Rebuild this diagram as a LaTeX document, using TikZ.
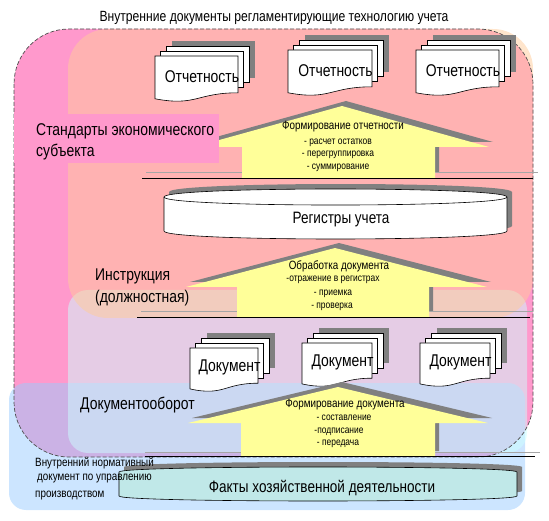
\documentclass[tikz,border=0pt]{standalone}
\usepackage{fontspec}
\setmainfont{Liberation Sans}[FakeStretch=0.82]
\definecolor{pinkA}{HTML}{FF99CC}
\definecolor{salmonL}{HTML}{FFCC99}
\definecolor{lavL}{HTML}{CCFFFF}
\definecolor{blueL}{HTML}{99CCFF}
\definecolor{houseY}{HTML}{FFFF99}
\definecolor{shadowgray}{HTML}{808080}
\definecolor{factsC}{HTML}{C0E8E8}
\tikzset{
  layer/.style={fill opacity=0.5},
  docpage/.style={fill=white,draw=black,line width=0.6pt},
  doctext/.style={inner sep=0pt,font=\fontsize{17}{19}\selectfont},
  bigtext/.style={inner sep=0pt,font=\fontsize{17}{19}\selectfont,anchor=west},
  cyltext/.style={inner sep=0pt,font=\fontsize{16.5}{18}\selectfont},
  htitle/.style={inner sep=0pt,font=\fontsize{12}{14}\selectfont},
  hitem/.style={inner sep=0pt,font=\fontsize{10.3}{12}\selectfont},
  smalltext/.style={inner sep=0pt,font=\fontsize{12}{14}\selectfont,anchor=west},
  housefill/.style={fill=houseY},
  hshadow/.style={fill=shadowgray},
  baseline/.style={draw=black,line width=0.8pt},
  baseshadow/.style={draw=shadowgray!70,line width=1pt},
  cylline/.style={draw=black,line width=0.6pt},
}
% document stack: name, x, y, w, H, text
\newcommand{\docstack}[6]{%
  \fill[shadowgray] (#2+17,#3-15) rectangle (#2+17+#4,#3-15+0.8*#5);
  \filldraw[docpage] (#2+11,#3-10) rectangle (#2+11+#4,#3-10+0.8*#5);
  \filldraw[docpage] (#2+5,#3-5) rectangle (#2+5+#4,#3-5+0.8*#5);
  \filldraw[docpage] (#2,#3) -- (#2+#4,#3) -- (#2+#4,#3+0.8*#5)
     .. controls (#2+0.5*#4,#3+0.8*#5) and (#2+0.5*#4,#3+1.1*#5) .. (#2,#3+0.93*#5) -- cycle;
  \node[doctext] (#1) at (#2+0.5*#4+5.5,#3+0.45*#5) {#6};
}
% house: style, cx, yp, ye, yb, ex1, ex2, bx1, bx2
\newcommand{\housesh}[9]{%
  \fill[#1] (#8,#5) -- (#8,#4) -- (#6,#4) -- (#2,#3) -- (#7,#4) -- (#9,#4) -- (#9,#5) -- cycle;
}
% cylinder: style, x1, x2, y1, y2, ry
\newcommand{\cylshape}[6]{%
  \path[#1] (#2,#4) .. controls (#2,#4-1.333*#6) and (#3,#4-1.333*#6) .. (#3,#4)
     -- (#3,#5) .. controls (#3,#5+1.333*#6) and (#2,#5+1.333*#6) .. (#2,#5) -- cycle;
}
\begin{document}
\begin{tikzpicture}[x=1pt,y=-1pt]
\useasboundingbox (0,0) rectangle (549,521);
% background regions
\fill[pinkA] (14,29) [rounded corners=55pt] rectangle (533,457);
\fill[blueL,layer] (9,383) [rounded corners=17pt] rectangle (525,510);
\fill[lavL,layer] (68,290) [rounded corners=20pt] rectangle (527,453);
\fill[salmonL,layer] (68,29) [rounded corners=40pt] rectangle (533,318);
\draw[black!70,dashed,dash pattern=on 4pt off 2pt,line width=0.7pt] (14,29) [rounded corners=55pt] rectangle (533,457);

\node[inner sep=0pt,font=\fontsize{14.8}{17}\selectfont] (title) at (274,18) {Внутренние документы регламентирующие технологию учета};

% top documents
\docstack{otch1}{155}{56}{83}{46}{Отчетность}
\docstack{otch2}{288}{50}{84}{46}{Отчетность}
\docstack{otch3}{416}{50}{83}{46}{Отчетность}

% house 1
\begin{scope}[shift={(4,-5)}]
\housesh{hshadow}{342}{106}{147}{178}{194}{489}{242}{435}
\end{scope}
\draw[baseshadow] (146,173) -- (538,173);
\housesh{housefill}{342}{106}{147}{178}{194}{489}{242}{435}
\draw[baseline] (142,178) -- (533,178);
\node[htitle] (h1t) at (343,127) {Формирование отчетности};
\node[hitem] (h1a) at (338,143) {- расчет остатков};
\node[hitem] (h1b) at (338,155) {- перегруппировка};
\node[hitem] (h1c) at (338,168) {- суммирование};

% label box
\fill[pinkA] (14,114) rectangle (219,163);
\node[bigtext] (std1) at (36,131) {Стандарты экономического};
\node[bigtext] (std2) at (36,152) {субъекта};

% registers cylinder
\begin{scope}[shift={(5,-5)}]
\cylshape{fill=shadowgray}{164}{507}{197}{231}{8}
\end{scope}
\cylshape{fill=white,cylline}{164}{507}{197}{231}{8}
\draw[cylline] (164,197) .. controls (164,207.7) and (507,207.7) .. (507,197);
\node[cyltext] (reg) at (341,220) {Регистры учета};

% house 2
\begin{scope}[shift={(4,-5)}]
\housesh{hshadow}{335}{248}{287}{317}{186}{487}{237}{429}
\end{scope}
\draw[baseshadow] (141,312) -- (533,312);
\housesh{housefill}{335}{248}{287}{317}{186}{487}{237}{429}
\draw[baseline] (137,317) -- (530,317);
\node[htitle] (h2t) at (339,266) {Обработка документа};
\node[hitem] (h2a) at (333,280) {-отражение в регистрах};
\node[hitem] (h2b) at (333,294) {- приемка};
\node[hitem] (h2c) at (332,307) {- проверка};
\node[bigtext] (instr1) at (95,276) {Инструкция};
\node[bigtext] (instr2) at (95,298) {(должностная)};

% document row
\docstack{doc1}{190}{348}{68}{44}{Документ}
\docstack{doc2}{302}{343}{70}{44}{Документ}
\docstack{doc3}{420}{343}{70}{44}{Документ}

% house 3
\begin{scope}[shift={(4,-5)}]
\housesh{hshadow}{338}{387}{423}{456}{188}{488}{241}{435}
\end{scope}
\draw[baseshadow] (145,452) -- (540,452);
\housesh{housefill}{338}{387}{423}{456}{188}{488}{241}{435}
\draw[baseline] (145,456) -- (535,456);
\node[htitle] (h3t) at (345,405) {Формирование документа};
\node[hitem] (h3a) at (344,418) {- составление};
\node[hitem] (h3b) at (339,432) {-подписание};
\node[hitem] (h3c) at (338,444) {- передача};
\node[bigtext] (dobor) at (80,405) {Документооборот};

% facts cylinder
\begin{scope}[shift={(5,-5)}]
\cylshape{fill=shadowgray}{119}{517}{472}{496}{5}
\end{scope}
\cylshape{fill=factsC,cylline}{119}{517}{472}{496}{5}
\node[cyltext] (facts) at (322,488) {Факты хозяйственной деятельности};

\node[smalltext] (vn1) at (35,463) {Внутренний нормативный};
\node[smalltext] (vn2) at (37,479) {документ по управлению};
\node[smalltext] (vn3) at (35,496) {производством};
\end{tikzpicture}
\end{document}
